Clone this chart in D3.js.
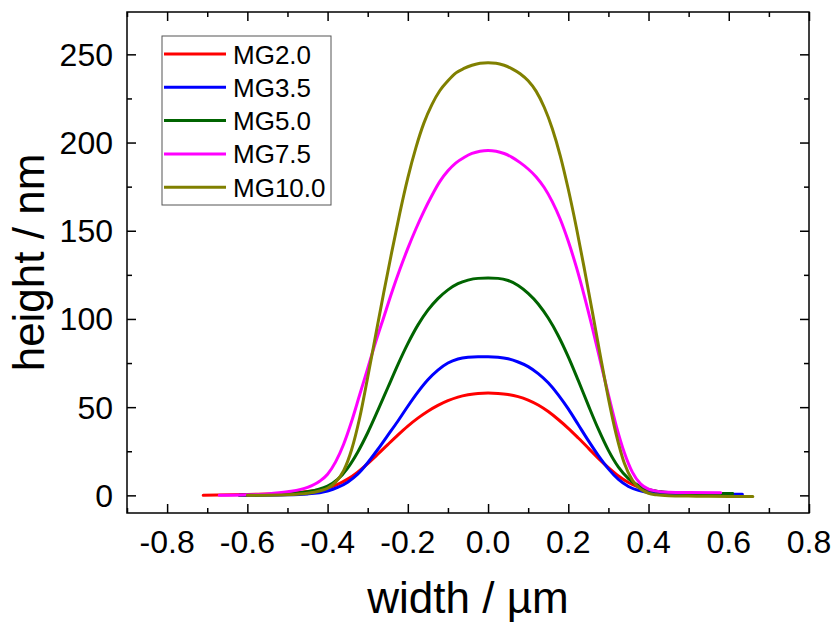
<!DOCTYPE html>
<html>
<head>
<meta charset="utf-8">
<script src="https://cdn.jsdelivr.net/npm/d3@7/dist/d3.min.js"></script>
<style>
body { margin: 0; background: #fff; }
svg { font-family: "Liberation Sans", Arial, sans-serif; }
</style>
</head>
<body>
<div id="chart"></div>
<script>
// profile data (width in um, height in nm)
var names = ["MG2.0", "MG3.5", "MG5.0", "MG7.5", "MG10.0"];
var colors = ["#ff0000", "#0000ff", "#006400", "#ff00ff", "#808000"];

var mg20x = [-0.71, -0.6, -0.5, -0.45, -0.425, -0.4, -0.375, -0.35, -0.325, -0.3, -0.275, -0.25, -0.225, -0.2, -0.175, -0.15, -0.125, -0.1, -0.075, -0.05, -0.025, 0,
             0.025, 0.05, 0.075, 0.1, 0.125, 0.15, 0.175, 0.2, 0.225, 0.25, 0.275, 0.3, 0.325, 0.35, 0.375, 0.4, 0.425, 0.45, 0.5, 0.62];
var mg20y = [0, 0.5, 1.2, 2.2, 3, 4.2, 6.2, 9.2, 13.2, 18, 23.3, 28.8, 34.2, 39.3, 43.8, 47.7, 51, 53.7, 55.7, 57, 57.8, 58,
             57.8, 57.2, 56, 54, 51.2, 47.5, 43, 38, 32.5, 26.8, 21, 15.7, 11, 7.3, 4.7, 3, 2, 1.4, 0.8, 0.4];

var mg35x = [-0.62, -0.5, -0.45, -0.4, -0.375, -0.35, -0.325, -0.3, -0.275, -0.25, -0.225, -0.2, -0.175, -0.15, -0.125, -0.1, -0.075, -0.05, -0.025, 0,
             0.025, 0.05, 0.075, 0.1, 0.125, 0.15, 0.175, 0.2, 0.225, 0.25, 0.275, 0.3, 0.325, 0.35, 0.375, 0.4, 0.45, 0.5, 0.634];
var mg35y = [0, 0.3, 0.8, 2.5, 4.5, 7.5, 12, 18.5, 26, 34, 42, 50.5, 58.5, 65.5, 71, 75, 77.3, 78.3, 78.6, 78.6,
             78.3, 77.4, 75.6, 73, 69, 63.8, 57, 49, 40, 31, 22.5, 15, 9, 5, 2.8, 1.6, 0.8, 0.6, 0.6];

var mg50x = [-0.62, -0.55, -0.5, -0.45, -0.425, -0.4, -0.375, -0.35, -0.325, -0.3, -0.275, -0.25, -0.225, -0.2, -0.175, -0.15, -0.125, -0.1, -0.075, -0.05, -0.025, 0,
             0.025, 0.05, 0.075, 0.1, 0.125, 0.15, 0.175, 0.2, 0.225, 0.25, 0.275, 0.3, 0.325, 0.35, 0.375, 0.4, 0.425, 0.45, 0.5, 0.61];
var mg50y = [0, 0.3, 0.8, 2, 3.2, 5.2, 9, 15.5, 24.5, 35.5, 48, 61, 74, 86, 96.5, 105, 111.5, 116.5, 120, 122, 123, 123.2,
             123, 121.8, 119, 114.5, 108.5, 100.5, 90.5, 78.5, 65, 51, 37.5, 25.5, 16, 9.5, 5.5, 3.3, 2.2, 1.6, 1.1, 1];

var mg75x = [-0.67, -0.6, -0.55, -0.5, -0.45, -0.42, -0.4, -0.38, -0.36, -0.34, -0.32, -0.3, -0.28, -0.26, -0.24, -0.22, -0.2, -0.18, -0.16, -0.14, -0.12, -0.1, -0.08, -0.06, -0.04, -0.02, 0,
             0.02, 0.04, 0.06, 0.08, 0.1, 0.12, 0.14, 0.16, 0.18, 0.2, 0.22, 0.24, 0.26, 0.28, 0.3, 0.32, 0.34, 0.36, 0.38, 0.4, 0.42, 0.45, 0.5, 0.58];
var mg75y = [0, 0.3, 0.8, 2, 4.5, 8, 12, 19, 29, 42, 57, 72, 87, 101, 115, 128, 140, 151, 161, 170, 178, 184, 188.5, 191.5, 193.8, 195.1, 195.5,
             195.1, 193.8, 191.6, 188.6, 185, 180.5, 174.5, 166.5, 156.5, 144, 129.5, 113, 95, 76, 57, 39, 24, 13, 6.5, 3.5, 2.4, 1.8, 1.6, 1.5];

var mg100x = [-0.6, -0.5, -0.45, -0.42, -0.4, -0.38, -0.36, -0.34, -0.32, -0.3, -0.28, -0.26, -0.24, -0.22, -0.2, -0.18, -0.16, -0.14, -0.12, -0.1, -0.08, -0.06, -0.04, -0.02, 0,
              0.02, 0.04, 0.06, 0.08, 0.1, 0.12, 0.14, 0.16, 0.18, 0.2, 0.22, 0.24, 0.26, 0.28, 0.3, 0.32, 0.34, 0.36, 0.38, 0.4, 0.42, 0.45, 0.5, 0.55, 0.6, 0.66];
var mg100y = [0, 0.4, 1.2, 2.5, 4, 7.5, 14, 26, 44, 67, 91, 115, 138, 160, 180, 197, 211, 221.5, 229.5, 235, 239.5, 242, 243.8, 245, 245.3,
              245, 243.8, 241.8, 239, 235, 229, 220, 208, 192.5, 173.5, 152, 128.5, 104, 79, 55, 34, 18, 8.5, 3.5, 1.2, 0.3, -0.2, -0.4, -0.5, -0.6, -0.6];

var xTicks = [-0.8, -0.6, -0.4, -0.2, 0.0, 0.2, 0.4, 0.6, 0.8];
var yTicks = [0, 50, 100, 150, 200, 250];

var seriesX = [mg20x, mg35x, mg50x, mg75x, mg100x];
var seriesY = [mg20y, mg35y, mg50y, mg75y, mg100y];

var W = 836, H = 624;
var mLeft = 127, mRight = 809, mTop = 12, mBottom = 513;

var svg = d3.select("#chart").append("svg")
    .attr("width", W).attr("height", H);

var x = d3.scaleLinear().domain([-0.9, 0.8]).range([mLeft, mRight]);
var y = d3.scaleLinear().domain([-10, 274]).range([mBottom, mTop]);

var xMinor = d3.range(-0.9, 0.801, 0.1)
    .map(function(d){ return Math.round(d*10)/10; })
    .filter(function(d){ return xTicks.indexOf(d) < 0; });
var yMinor = d3.range(25, 274, 50);

var g = svg.append("g");

// ticks on all four sides, pointing inward
function drawTicks(axisFn, scale, vals, len, pos) {
    g.append("g")
        .attr("transform", pos)
        .call(axisFn(scale).tickValues(vals).tickSize(len).tickFormat(""))
        .call(function(s){ s.select(".domain").remove(); })
        .selectAll("line").attr("stroke", "#000").attr("stroke-width", 1.5);
}
drawTicks(d3.axisTop, x, xTicks, 9, "translate(0," + mBottom + ")");
drawTicks(d3.axisTop, x, xMinor, 5, "translate(0," + mBottom + ")");
drawTicks(d3.axisBottom, x, xTicks, 9, "translate(0," + mTop + ")");
drawTicks(d3.axisBottom, x, xMinor, 5, "translate(0," + mTop + ")");
drawTicks(d3.axisRight, y, yTicks, 9, "translate(" + mLeft + ",0)");
drawTicks(d3.axisRight, y, yMinor, 5, "translate(" + mLeft + ",0)");
drawTicks(d3.axisLeft, y, yTicks, 9, "translate(" + mRight + ",0)");
drawTicks(d3.axisLeft, y, yMinor, 5, "translate(" + mRight + ",0)");

// tick labels (plain hyphen minus like the original)
function fmtX(d) { return d.toFixed(1).replace("-0.0", "0.0"); }

svg.append("g").selectAll("text").data(xTicks).enter().append("text")
    .attr("x", function(d){ return x(d); })
    .attr("y", 553)
    .attr("text-anchor", "middle")
    .attr("font-size", 32)
    .text(fmtX);

svg.append("g").selectAll("text").data(yTicks).enter().append("text")
    .attr("x", 113)
    .attr("y", function(d){ return y(d) + 11.5; })
    .attr("text-anchor", "end")
    .attr("font-size", 32)
    .text(function(d){ return d; });

// curves
var line = d3.line()
    .x(function(d){ return x(d[0]); })
    .y(function(d){ return y(d[1]); })
    .curve(d3.curveMonotoneX);

seriesX.forEach(function(xs, i) {
    var pts = xs.map(function(v, j){ return [v, seriesY[i][j]]; });
    svg.append("path")
        .datum(pts)
        .attr("fill", "none")
        .attr("stroke", colors[i])
        .attr("stroke-width", 3)
        .attr("stroke-linecap", "round")
        .attr("d", line);
});

// frame
svg.append("rect")
    .attr("x", mLeft).attr("y", mTop)
    .attr("width", mRight - mLeft).attr("height", mBottom - mTop)
    .attr("fill", "none").attr("stroke", "#000").attr("stroke-width", 1.5);

// legend
var leg = svg.append("g").attr("transform", "translate(162,36)");
leg.append("rect")
    .attr("width", 169).attr("height", 169)
    .attr("fill", "#fff").attr("stroke", "#555").attr("stroke-width", 1);
names.forEach(function(n, i) {
    var yy = 18 + i * 33.3;
    leg.append("line")
        .attr("x1", 2).attr("x2", 64).attr("y1", yy).attr("y2", yy)
        .attr("stroke", colors[i]).attr("stroke-width", 3);
    leg.append("text")
        .attr("x", 71).attr("y", yy + 9.5)
        .attr("font-size", 26)
        .text(n);
});

// axis titles
svg.append("text")
    .attr("x", (mLeft + mRight) / 2).attr("y", 613)
    .attr("text-anchor", "middle")
    .attr("font-size", 44)
    .text("width / µm");

svg.append("text")
    .attr("transform", "translate(44," + ((mTop + mBottom) / 2) + ") rotate(-90)")
    .attr("text-anchor", "middle")
    .attr("font-size", 44)
    .text("height / nm");
</script>
</body>
</html>
